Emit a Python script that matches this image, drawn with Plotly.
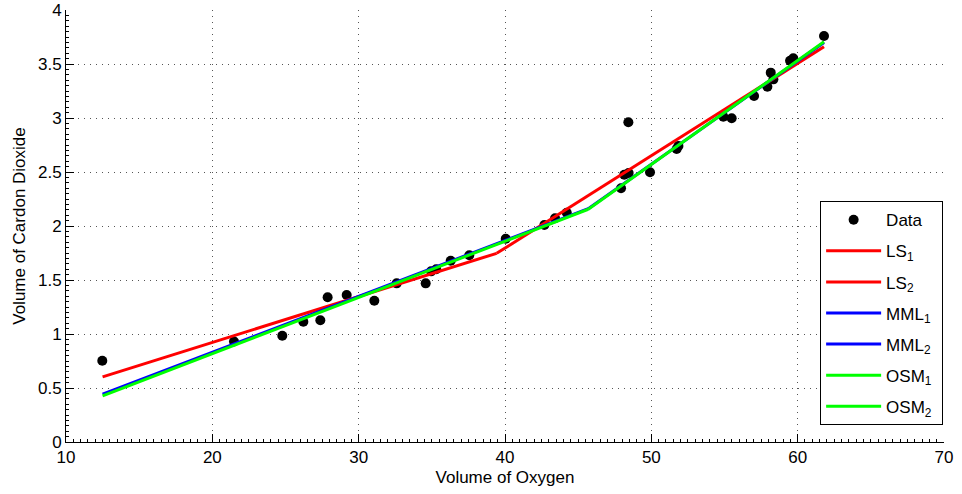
import plotly.graph_objects as go

# Observed data
oxygen = [12.48, 21.48, 24.78, 26.22, 27.38, 27.88, 29.18, 31.07, 32.6, 34.58,
          34.95, 35.3, 36.29, 37.56, 40.05, 42.69, 43.42, 44.22, 47.93, 48.15,
          48.45, 48.43, 49.91, 51.73, 51.85, 54.92, 55.49, 57.02, 57.93, 58.16,
          58.34, 59.48, 59.7, 61.8]
co2 = [0.753, 0.93, 0.984, 1.114, 1.127, 1.34, 1.361, 1.308, 1.469, 1.469,
       1.58, 1.60, 1.679, 1.729, 1.882, 2.009, 2.071, 2.123, 2.349, 2.475,
       2.49, 2.96, 2.497, 2.713, 2.74, 3.012, 2.997, 3.204, 3.29, 3.42,
       3.358, 3.53, 3.553, 3.759]

# Fitted two-regime lines (segment endpoints)
ls1_x = [12.5, 39.43]
ls1_y = [0.603, 1.747]
ls2_x = [39.43, 61.8]
ls2_y = [1.747, 3.66]
mml1_x = [12.5, 45.69]
mml1_y = [0.443, 2.16]
mml2_x = [45.69, 61.8]
mml2_y = [2.16, 3.70]
osm1_x = [12.5, 45.69]
osm1_y = [0.427, 2.155]
osm2_x = [45.69, 61.8]
osm2_y = [2.155, 3.706]

x_ticks = [10, 20, 30, 40, 50, 60, 70]
y_ticks = [0, 0.5, 1, 1.5, 2, 2.5, 3, 3.5, 4]
y_ticklabels = ["0", "0.5", "1", "1.5", "2", "2.5", "3", "3.5", "4"]

FONT = "Liberation Sans, Arial, sans-serif"
FS = 17

fig = go.Figure()
fig.add_trace(go.Scatter(x=oxygen, y=co2, mode="markers", name="Data",
                         legendgroup="d",
                         marker=dict(color="black", size=10)))

lines = [
    (ls1_x, ls1_y, "LS<sub>1</sub>", "#FF0000"),
    (ls2_x, ls2_y, "LS<sub>2</sub>", "#FF0000"),
    (mml1_x, mml1_y, "MML<sub>1</sub>", "#0000FF"),
    (mml2_x, mml2_y, "MML<sub>2</sub>", "#0000FF"),
    (osm1_x, osm1_y, "OSM<sub>1</sub>", "#00FF00"),
    (osm2_x, osm2_y, "OSM<sub>2</sub>&nbsp;", "#00FF00"),
]
for i, (xs, ys, nm, col) in enumerate(lines):
    fig.add_trace(go.Scatter(x=xs, y=ys, mode="lines", name=nm,
                             legendgroup=f"g{i}",
                             line=dict(color=col, width=3)))

axis_common = dict(
    showline=True, linecolor="black", linewidth=1,
    ticks="inside", ticklen=8, tickcolor="black", tickwidth=1,
    showgrid=True, gridcolor="#555555", gridwidth=1, griddash="1px,5px",
    zeroline=False, mirror=False, automargin=False,
    tickfont=dict(family=FONT, size=FS, color="black"),
)

fig.update_xaxes(range=[10, 70], tickvals=x_ticks,
                 title=dict(text="Volume of Oxygen", standoff=4,
                            font=dict(family=FONT, size=FS, color="black")),
                 minor=dict(dtick=0.5, tick0=10, ticks="inside", ticklen=3,
                            tickcolor="black", showgrid=False),
                 **axis_common)
fig.update_yaxes(range=[0, 4], tickvals=y_ticks, ticktext=y_ticklabels,
                 title=dict(text="Volume of Cardon Dioxide", standoff=8,
                            font=dict(family=FONT, size=FS, color="black")),
                 minor=dict(dtick=0.05, tick0=0, ticks="inside", ticklen=3,
                            tickcolor="black", showgrid=False),
                 **axis_common)

fig.update_layout(
    width=962, height=494,
    margin=dict(l=66, r=18, t=10, b=52),
    plot_bgcolor="white", paper_bgcolor="white",
    font=dict(family=FONT, size=FS, color="black"),
    legend=dict(x=0.999, y=0.039, xanchor="right", yanchor="bottom",
                bgcolor="white", bordercolor="black", borderwidth=1,
                font=dict(family=FONT, size=FS, color="black"),
                itemwidth=55, tracegroupgap=6, traceorder="grouped"),
    showlegend=True,
)

fig.write_html(
    "out.html",
    config={"displayModeBar": False},
    post_script="document.body.style.margin='0';document.body.style.overflow='hidden';",
)
